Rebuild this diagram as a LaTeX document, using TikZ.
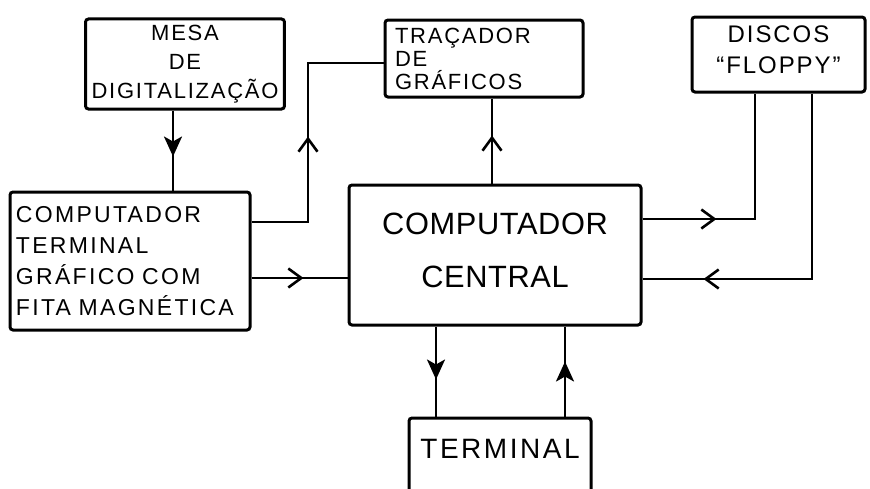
\documentclass[tikz,border=0pt]{standalone}
\usepackage{fontspec}
\setmainfont{Liberation Sans}
\usetikzlibrary{arrows.meta,decorations.markings}

\begin{document}
\begin{tikzpicture}[x=0.5pt,y=-0.5pt,
  box/.style={draw, line width=1.5pt, rounded corners=1.5pt, inner sep=3pt},
  link/.style={line width=1.3pt},
  barbmark/.style={postaction={decorate}, decoration={markings,
    mark=at position #1 with {\arrow{Straight Barb[length=6.5pt,width=9.5pt,line width=1.3pt]}}}},
  fillmark/.style={postaction={decorate}, decoration={markings,
    mark=at position #1 with {\arrow{Stealth[length=10pt,width=9pt,inset=2.5pt]}}}}]
\path[use as bounding box, clip] (0,0) rectangle (870,488);
% Blocks
\node[box, minimum width=98pt, minimum height=42.5pt, align=center,
  font={\fontsize{11}{14.5}\selectfont\addfontfeature{LetterSpace=8}}]
  (mesa) at (185,64) {MESA\\DE\\DIGITALIZAÇÃO};
\node[box, inner xsep=5pt, text width=89pt, minimum height=38.5pt, align=left,
  font={\fontsize{11}{11.5}\selectfont\addfontfeature{LetterSpace=8}}]
  (tracador) at (484,58.5) {TRAÇADOR\\DE\\GRÁFICOS};
\node[box, minimum width=86.5pt, minimum height=37.5pt, align=center,
  font={\fontsize{12}{15.5}\selectfont\addfontfeature{LetterSpace=8}}]
  (floppy) at (778.5,54.5) {DISCOS\\“FLOPPY”\\[-10.5pt]};
\node[box, inner xsep=3pt, text width=114pt, minimum height=69pt, align=left,
  font={\fontsize{11.5}{15.5}\selectfont\addfontfeature{LetterSpace=10}}]
  (termgraf) at (130,261) {COMPUTADOR\\TERMINAL\\GRÁFICO COM\\FITA MAGNÉTICA};
\node[box, minimum width=146pt, minimum height=70pt, align=center,
  font={\fontsize{15.4}{26.5}\selectfont\addfontfeature{LetterSpace=2}}]
  (central) at (495,255) {COMPUTADOR\\CENTRAL\\[-21.5pt]};
\node[box, minimum width=91pt, minimum height=41pt, text depth=10pt,
  font={\fontsize{14}{16}\selectfont\addfontfeature{LetterSpace=9}}]
  (terminal) at (500,459) {TERMINAL};
% Links
\coordinate (bend) at (308,63);
\draw[link, fillmark=23pt] ([xshift=-6pt]mesa.south) -- ([xshift=-6pt]mesa.south |- termgraf.north);
\draw[link, barbmark=71pt] ([yshift=19.5pt]termgraf.east) -| (bend) -- (bend -| tracador.west);
\draw[link, barbmark=26pt] ([yshift=-8.5pt]termgraf.east) -- ([yshift=-8.5pt]termgraf.east -| central.west);
\draw[link, barbmark=24pt] ([xshift=-1.5pt]central.north) -- ([xshift=-1.5pt]central.north |- tracador.south);
\draw[link, barbmark=37pt] ([yshift=18pt]central.east) -| ([xshift=-11.75pt]floppy.south);
\draw[link, barbmark=147pt] ([xshift=16.75pt]floppy.south) |- ([yshift=-12pt]central.east);
\draw[link, fillmark=26.5pt] ([xshift=-29.5pt]central.south) -- ([xshift=-29.5pt]central.south |- terminal.north);
\draw[link, fillmark=27.5pt] ([xshift=32.5pt]terminal.north) -- ([xshift=32.5pt]terminal.north |- central.south);
\end{tikzpicture}
\end{document}
